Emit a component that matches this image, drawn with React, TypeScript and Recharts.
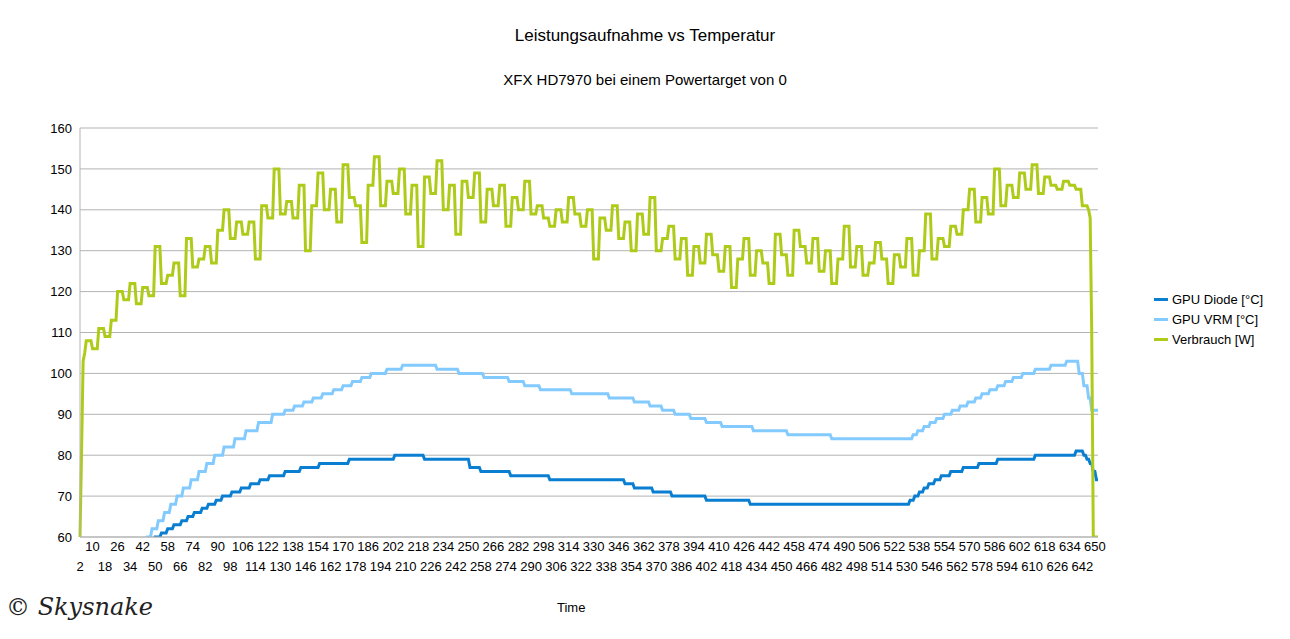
import React from "react";
import { LineChart, Line, XAxis, YAxis, CartesianGrid } from "recharts";

const startTime = 2;
const pointCount = 651;
// run-length readings: [value, count]
const diodeRuns: [number, number][] = [
  [45, 12], [50, 12], [55, 12], [58, 12],
  [60, 4], [61, 4], [62, 4], [63, 5], [64, 4], [65, 4], [66, 5], [67, 4], [68, 5], [69, 4],
  [70, 6], [71, 6], [72, 6], [73, 6], [74, 6], [75, 10], [76, 10], [77, 12], [78, 19], [79, 29], [80, 19],
  [79, 29], [77, 7], [76, 19], [75, 25], [74, 48], [73, 6], [72, 12], [71, 12], [70, 22], [69, 28], [68, 102],
  [69, 3], [70, 3], [71, 3], [72, 3], [73, 4], [74, 4], [75, 6], [76, 8], [77, 10], [78, 12], [79, 24], [80, 26], [81, 5],
  [80, 2], [79, 2], [78, 2], [76, 2], [74, 2],
];
const vrmRuns: [number, number][] = [
  [42, 8], [46, 8], [50, 9], [54, 9], [58, 9], [60, 3], [62, 4], [64, 4], [66, 4], [68, 4], [70, 4], [72, 5], [74, 5], [76, 5], [78, 5], [80, 6], [82, 7], [84, 7], [86, 8], [88, 9], [90, 8], [91, 6], [92, 6], [93, 6], [94, 6], [95, 7], [96, 6], [97, 6], [98, 6], [99, 6], [100, 10], [101, 10], [102, 22], [101, 14], [100, 16], [99, 16], [98, 10], [97, 10], [96, 20], [95, 24], [94, 16], [93, 10], [92, 8], [91, 8], [90, 10], [89, 10], [88, 10], [87, 20], [86, 22], [85, 28], [84, 52], [85, 3], [86, 4], [87, 4], [88, 4], [89, 5], [90, 5], [91, 5], [92, 5], [93, 5], [94, 4], [95, 5], [96, 5], [97, 5], [98, 5], [99, 6], [100, 8], [101, 10], [102, 10], [103, 8], [100, 3], [97, 3], [94, 2], [91, 2],
];
const powerHead = [60, 81, 103, 105];
const powerBlocks = [
  108, 106, 111, 109, 113, 120,
  118, 122, 117, 121, 119, 131, 122,
  124, 127, 119, 133, 126, 128,
  131, 127, 135, 140, 133, 137,
  134, 137, 128, 141, 138, 150, 139,
  142, 138, 146, 130, 141, 149, 140,
  145, 137, 151, 143, 141, 132, 146,
  153, 141, 147, 144, 150, 139,
  146, 131, 148, 144, 152, 140, 146,
  134, 147, 143, 149, 137, 145,
  141, 146, 136, 143, 140, 147, 139,
  141, 138, 136, 140, 137, 143, 139,
  136, 140, 128, 138, 135, 141, 133,
  137, 130, 139, 134, 143, 130, 133,
  136, 128, 133, 124, 131, 127, 134,
  129, 125, 131, 121, 128, 133, 124,
  130, 127, 122, 134, 129, 124, 135,
  131, 127, 133, 125, 130, 122, 128,
  136, 126, 131, 124, 127, 132, 128,
  122, 129, 126, 133, 124, 130, 139,
  128, 133, 131, 136, 134, 140,
  145, 137, 143, 139, 150, 141, 146,
  143, 149, 145, 151, 144, 148, 146,
  145, 147, 146, 145, 141,
];
const powerTail = [140, 138, 110, 60, 60, 60, 60];
const yTicks = [60, 70, 80, 90, 100, 110, 120, 130, 140, 150, 160];
const seriesNames = ["GPU Diode [°C]", "GPU VRM [°C]", "Verbrauch [W]"];
const seriesColors = ["#0a7fd2", "#83caff", "#aecb1a"];

const expand = (runs: [number, number][]) => {
  const out: number[] = [];
  runs.forEach(([v, c]) => { for (let k = 0; k < c; k++) out.push(v); });
  return out;
};
const diode = expand(diodeRuns);
const vrm = expand(vrmRuns);
const power: number[] = [...powerHead];
powerBlocks.forEach((v) => { for (let k = 0; k < 4; k++) power.push(v); });
power.push(...powerTail);

const data = Array.from({ length: pointCount }, (_, i) => ({
  t: startTime + i,
  d: diode[Math.min(i, diode.length - 1)],
  v: vrm[Math.min(i, vrm.length - 1)],
  p: power[Math.min(i, power.length - 1)],
}));

const font = "'Liberation Sans', Arial, sans-serif";

const TimeTick = (props: any) => {
  const { x, y, payload } = props;
  const lower = ((payload.value - startTime) / 8) % 2 === 0;
  return (
    <text x={x} y={y + (lower ? 26 : 6)} textAnchor="middle" fontSize={13} fill="#000" fontFamily={font}>
      {payload.value}
    </text>
  );
};

export default function App() {
  return (
    <div style={{ position: "absolute", left: 0, top: 0, width: 1290, height: 639, background: "#fff", fontFamily: font }}>
      <div style={{ position: "absolute", top: 26, width: 1290, textAlign: "center", fontSize: 17 }}>Leistungsaufnahme vs Temperatur</div>
      <div style={{ position: "absolute", top: 71, width: 1290, textAlign: "center", fontSize: 15 }}>XFX HD7970 bei einem Powertarget von 0</div>
      <div style={{ position: "absolute", top: 600, left: 557, fontSize: 13 }}>Time</div>
      <div style={{ position: "absolute", top: 593, left: 6, fontSize: 24, fontStyle: "italic", color: "#222", fontFamily: "'DejaVu Serif', serif" }}>© Skysnake</div>
      <div style={{ position: "absolute", left: 1154, top: 289, fontSize: 13 }}>
        {seriesNames.map((n, i) => (
          <div key={n} style={{ display: "flex", alignItems: "center", height: 20 }}>
            <span style={{ display: "inline-block", width: 14, height: 3, background: seriesColors[i], marginRight: 4 }} />
            {n}
          </div>
        ))}
      </div>
      <LineChart width={1290} height={639} data={data} margin={{ top: 128, right: 192, bottom: 42, left: 0 }}>
        <CartesianGrid vertical={false} stroke="#b3b3b3" />
        <XAxis dataKey="t" interval={7} tick={<TimeTick />} tickLine={false} axisLine={{ stroke: "#b3b3b3" }} height={60} />
        <YAxis domain={[60, 160]} ticks={yTicks} allowDataOverflow width={80} tickLine={false} axisLine={{ stroke: "#b3b3b3" }} tick={{ fontSize: 13, fill: "#000", fontFamily: font }} />
        <YAxis yAxisId="r" orientation="right" width={0} tick={false} tickLine={false} axisLine={{ stroke: "#b3b3b3" }} />
        <Line dataKey="d" name={seriesNames[0]} stroke={seriesColors[0]} strokeWidth={3} dot={false} isAnimationActive={false} />
        <Line dataKey="v" name={seriesNames[1]} stroke={seriesColors[1]} strokeWidth={3} dot={false} isAnimationActive={false} />
        <Line dataKey="p" name={seriesNames[2]} stroke={seriesColors[2]} strokeWidth={3} dot={false} isAnimationActive={false} />
      </LineChart>
    </div>
  );
}
